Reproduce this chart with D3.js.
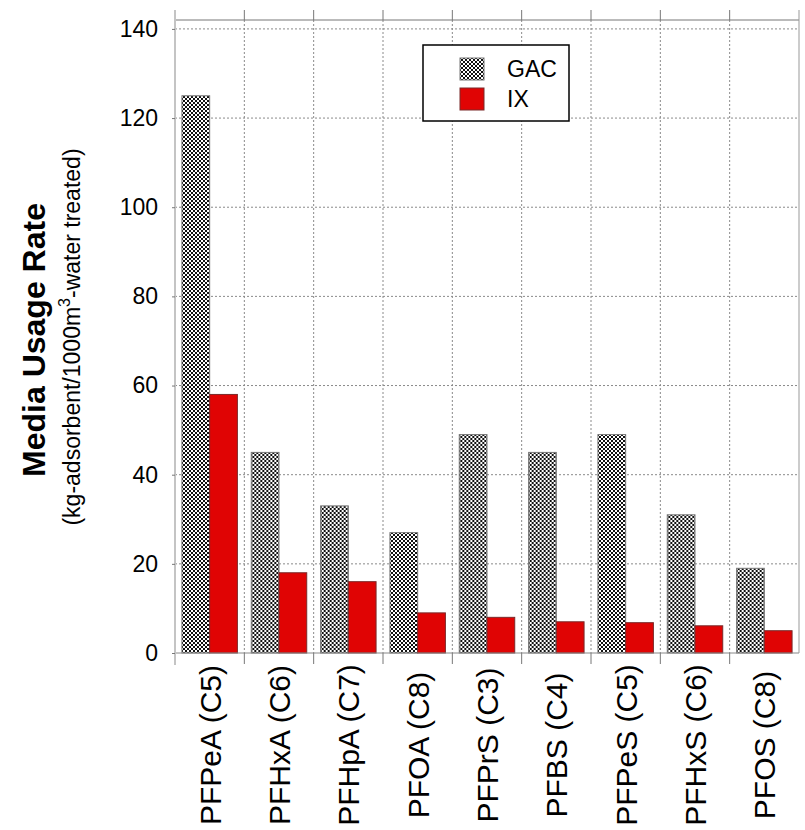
<!DOCTYPE html>
<html>
<head>
	<title>Media Usage Rate</title>
	<script src="https://d3js.org/d3.v7.min.js"></script>
	<style>
		body { margin: 0; background: #fff; }
		text { font-family: "Liberation Sans", Arial, sans-serif; fill: #000; }
	</style>
</head>
<body>
	<div id="chart"></div>

	<script type="text/javascript">

		// data
		var compounds = ["PFPeA (C5)", "PFHxA (C6)", "PFHpA (C7)", "PFOA (C8)", "PFPrS (C3)",
		                 "PFBS (C4)", "PFPeS (C5)", "PFHxS (C6)", "PFOS (C8)"];
		var series = ["GAC", "IX"];
		var gacValues = [125, 45, 33, 27, 49, 45, 49, 31, 19];
		var ixValues = [58, 18, 16, 9, 8, 7, 6.8, 6.1, 5];
		var yTicks = [0, 20, 40, 60, 80, 100, 120, 140];

		var width = 805;
		var height = 830;
		var plot = {left: 175, right: 799, top: 20, bottom: 653};

		var svg = d3.select("#chart")
			.append("svg")
				.attr("width", width)
				.attr("height", height);

		// checker fill for the GAC bars
		var defs = svg.append("defs");
		var pat = defs.append("pattern")
			.attr("id", "checker")
			.attr("width", 4)
			.attr("height", 4)
			.attr("patternUnits", "userSpaceOnUse");
		pat.append("rect").attr("width", 4).attr("height", 4).attr("fill", "#fff");
		pat.append("rect").attr("x", 0).attr("y", 0).attr("width", 2).attr("height", 2).attr("fill", "#111");
		pat.append("rect").attr("x", 2).attr("y", 2).attr("width", 2).attr("height", 2).attr("fill", "#111");

		var xScale = d3.scaleBand().domain(compounds).range([plot.left, plot.right]);
		var bw = xScale.bandwidth();
		var xSeries = d3.scaleBand().domain(series).range([bw * 0.1, bw * 0.9]);
		var yScale = d3.scaleLinear().domain([0, 142]).range([plot.bottom, plot.top]);

		// grid
		svg.append("g")
			.selectAll("line")
			.data(yTicks.filter(function(d) { return d > 0; }))
			.enter().append("line")
				.attr("x1", plot.left)
				.attr("x2", plot.right)
				.attr("y1", function(d) { return yScale(d); })
				.attr("y2", function(d) { return yScale(d); })
				.attr("stroke", "#8a8a8a")
				.attr("stroke-width", 1)
				.attr("stroke-dasharray", "2,2");

		svg.append("g")
			.selectAll("line")
			.data(compounds.slice(1))
			.enter().append("line")
				.attr("x1", function(d) { return xScale(d); })
				.attr("x2", function(d) { return xScale(d); })
				.attr("y1", plot.top)
				.attr("y2", plot.bottom)
				.attr("stroke", "#8a8a8a")
				.attr("stroke-width", 1)
				.attr("stroke-dasharray", "2,2");

		// bars
		var groups = svg.append("g")
			.selectAll("g")
			.data(compounds)
			.enter().append("g")
				.attr("transform", function(d) { return "translate(" + xScale(d) + ",0)"; });

		groups.append("rect")
			.attr("x", xSeries("GAC"))
			.attr("y", function(d, i) { return yScale(gacValues[i]); })
			.attr("width", xSeries.bandwidth())
			.attr("height", function(d, i) { return yScale(0) - yScale(gacValues[i]); })
			.attr("fill", "url(#checker)")
			.attr("stroke", "#777")
			.attr("stroke-width", 1);

		groups.append("rect")
			.attr("x", xSeries("IX"))
			.attr("y", function(d, i) { return yScale(ixValues[i]); })
			.attr("width", xSeries.bandwidth())
			.attr("height", function(d, i) { return yScale(0) - yScale(ixValues[i]); })
			.attr("fill", "#e00404")
			.attr("stroke", "#7a2a2a")
			.attr("stroke-width", 1);

		// frame
		svg.append("line")
			.attr("x1", plot.left).attr("x2", plot.right)
			.attr("y1", plot.top).attr("y2", plot.top)
			.attr("stroke", "#777");
		svg.append("line")
			.attr("x1", plot.left).attr("x2", plot.right)
			.attr("y1", plot.bottom).attr("y2", plot.bottom)
			.attr("stroke", "#888");
		svg.append("line")
			.attr("x1", plot.right).attr("x2", plot.right)
			.attr("y1", plot.top - 10).attr("y2", plot.bottom)
			.attr("stroke", "#999");
		svg.append("line")
			.attr("x1", plot.left).attr("x2", plot.left)
			.attr("y1", plot.top - 10).attr("y2", plot.bottom + 12)
			.attr("stroke", "#c4c4c4")
			.attr("stroke-width", 2);

		// category ticks above and below
		compounds.slice(1).forEach(function(c) {
			svg.append("line")
				.attr("x1", xScale(c)).attr("x2", xScale(c))
				.attr("y1", plot.top - 10).attr("y2", plot.top)
				.attr("stroke", "#777");
			svg.append("line")
				.attr("x1", xScale(c)).attr("x2", xScale(c))
				.attr("y1", plot.bottom).attr("y2", plot.bottom + 11)
				.attr("stroke", "#777");
		});

		// y axis
		var yAxis = svg.append("g")
			.attr("transform", "translate(" + plot.left + ",0)")
			.call(d3.axisLeft(yScale).tickValues(yTicks).tickSize(3).tickPadding(14));
		yAxis.select(".domain").remove();
		yAxis.selectAll(".tick line").attr("stroke", "#777");
		yAxis.selectAll(".tick text")
			.attr("font-size", "23px")
			.attr("font-family", "Liberation Sans, Arial, sans-serif")
			.attr("fill", "#000");

		// x labels, rotated
		svg.append("g")
			.selectAll("text")
			.data(compounds)
			.enter().append("text")
				.attr("transform", function(d) {
					return "translate(" + (xScale(d) + bw / 2 + 11) + ",745) rotate(-90)";
				})
				.attr("text-anchor", "middle")
				.style("font-size", "30px")
				.text(function(d) { return d; });

		// y title
		svg.append("text")
			.attr("transform", "translate(45,340) rotate(-90)")
			.attr("text-anchor", "middle")
			.style("font-size", "32px")
			.style("font-weight", "bold")
			.text("Media Usage Rate");

		var sub = svg.append("text")
			.attr("transform", "translate(80,337) rotate(-90)")
			.attr("text-anchor", "middle")
			.style("font-size", "23px");
		sub.append("tspan").text("(kg-adsorbent/1000m");
		sub.append("tspan").attr("dy", -10).style("font-size", "16px").text("3");
		sub.append("tspan").attr("dy", 10).text("-water treated)");

		// legend
		var legend = svg.append("g").attr("transform", "translate(423,45)");
		legend.append("rect")
			.attr("width", 146)
			.attr("height", 76)
			.attr("fill", "#fff")
			.attr("stroke", "#000")
			.attr("stroke-width", 1.5);
		var fills = {GAC: "url(#checker)", IX: "#e00404"};
		var strokes = {GAC: "#777", IX: "#7a2a2a"};
		series.forEach(function(s, i) {
			legend.append("rect")
				.attr("x", 37)
				.attr("y", 13 + i * 30)
				.attr("width", 24)
				.attr("height", 22)
				.attr("fill", fills[s])
				.attr("stroke", strokes[s]);
			legend.append("text")
				.attr("x", 84)
				.attr("y", 32 + i * 30)
				.style("font-size", "23px")
				.text(s);
		});

	</script>
</body>
</html>
